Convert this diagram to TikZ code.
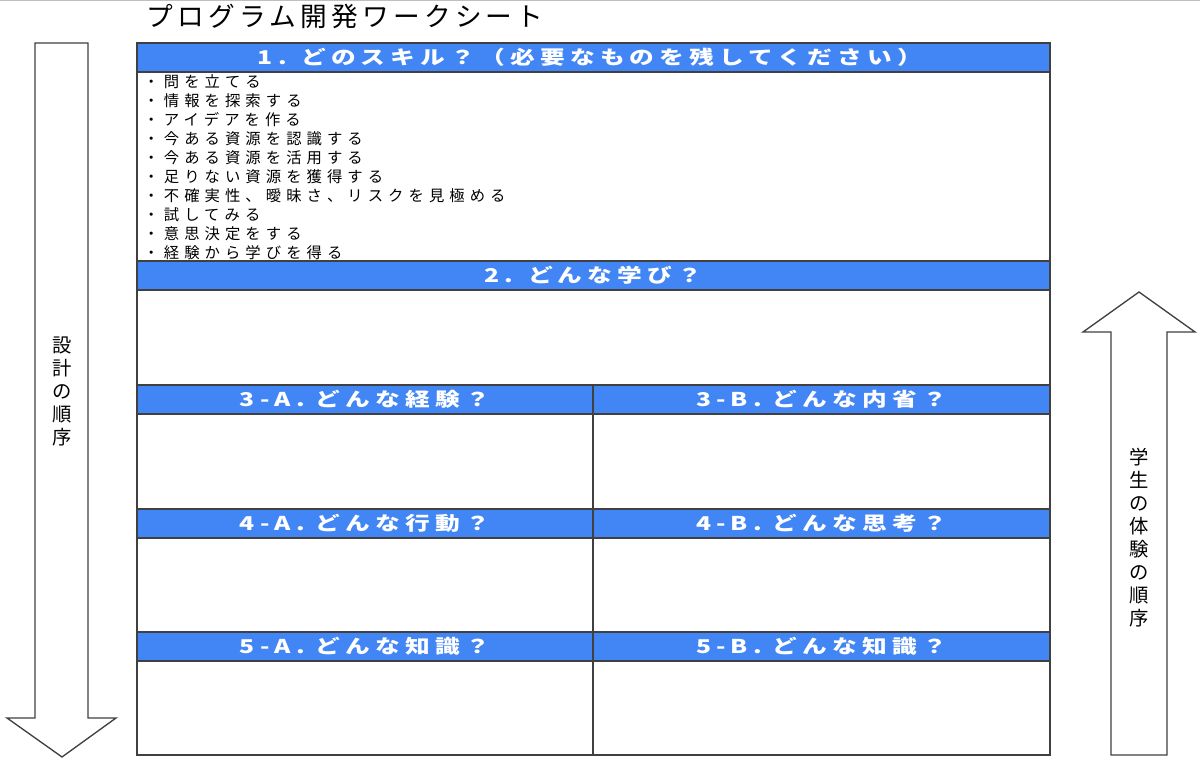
\documentclass[tikz,border=0pt]{standalone}
\usepackage{fontspec}
\usepackage{graphicx}
\setmainfont{Noto Sans CJK JP}
\newfontfamily\titlefont[LetterSpace=16]{Noto Sans CJK JP}
\newfontfamily\headfont[LetterSpace=21]{Noto Sans CJK JP}
\newfontfamily\listfont[LetterSpace=33]{Noto Sans CJK JP}
\newcommand{\stretchx}[1]{\scalebox{1.3}[1]{#1}}

\definecolor{barblue}{RGB}{66,133,244}
\definecolor{rulegray}{RGB}{64,64,64}

\tikzset{every picture/.style={line width=0.75pt}}
\tikzset{
  cell/.style={draw=rulegray, line width=1.1pt},
  bar/.style={draw=rulegray, line width=1.1pt, fill=barblue},
  hdrtext/.style={font=\headfont\bfseries\fontsize{14.25}{16}\selectfont, text=white, inner sep=0pt},
  flowarrow/.style={draw=rulegray, line width=1pt, fill=white},
  flowtext/.style={font=\fontsize{14.5}{17.25}\selectfont, align=center, inner sep=0pt}
}

\begin{document}
\begin{tikzpicture}[x=0.75pt,y=0.75pt,yscale=-1,xscale=1]
\useasboundingbox (0,0) rectangle (1200,773);
\draw [black!25] (0,0.8) -- (1200,0.8) ;

% Title
\node (title) [font=\titlefont\fontsize{20}{22}\selectfont, inner sep=0pt] at (345,16) {プログラム開発ワークシート};

%Down Arrow (design order)
\draw [flowarrow] (35,43) -- (88,43) -- (88,718) -- (116,718) -- (62,757) -- (7,718) -- (35,718) -- cycle ;
\node (designorder) [flowtext] at (62,391) {設\\計\\の\\順\\序};

%Up Arrow (student order)
\draw [flowarrow] (1111,755) -- (1111,332) -- (1083,332) -- (1139,292) -- (1195,332) -- (1167,332) -- (1167,755) -- cycle ;
\node (studentorder) [flowtext] at (1139,538) {学\\生\\の\\体\\験\\の\\順\\序};

% Sheet frame
\draw [cell] (137,43) rectangle (1050,755) ;
\draw [bar] (137,43) rectangle (1050,72) ;
\draw [bar] (137,261) rectangle (1050,290) ;
\draw [bar] (137,385) rectangle (1050,414) ;
\draw [bar] (137,509) rectangle (1050,538) ;
\draw [bar] (137,632) rectangle (1050,661) ;
\draw [cell] (593,385) -- (593,755) ;

% Header Text
\node (hdrone) [hdrtext] at (590,57.5) {\stretchx{1. どのスキル？（必要なものを残してください）}};
\node (hdrtwo) [hdrtext] at (593.5,275.5) {\stretchx{2. どんな学び？}};
\node (hdrthreeA) [hdrtext] at (365,399.5) {\stretchx{3-A. どんな経験？}};
\node (hdrthreeB) [hdrtext] at (821.5,399.5) {\stretchx{3-B. どんな内省？}};
\node (hdrfourA) [hdrtext] at (365,523.5) {\stretchx{4-A. どんな行動？}};
\node (hdrfourB) [hdrtext] at (821.5,523.5) {\stretchx{4-B. どんな思考？}};
\node (hdrfiveA) [hdrtext] at (365,646.5) {\stretchx{5-A. どんな知識？}};
\node (hdrfiveB) [hdrtext] at (821.5,646.5) {\stretchx{5-B. どんな知識？}};

% Skill list
\node (skills) [anchor=north west, align=left, inner sep=0pt, font=\listfont\fontsize{11.5}{14.2}\selectfont] at (143,74.5) {・問を立てる\\・情報を探索する\\・アイデアを作る\\・今ある資源を認識する\\・今ある資源を活用する\\・足りない資源を獲得する\\・不確実性、曖昧さ、リスクを見極める\\・試してみる\\・意思決定をする\\・経験から学びを得る};

\end{tikzpicture}
\end{document}
